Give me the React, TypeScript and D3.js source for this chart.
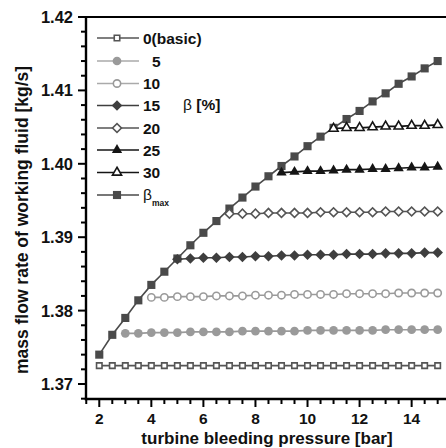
import React from "react";
import * as d3 from "d3";

const pressures = [2, 2.5, 3, 3.5, 4, 4.5, 5, 5.5, 6, 6.5, 7, 7.5, 8, 8.5, 9, 9.5, 10, 10.5, 11, 11.5, 12, 12.5, 13, 13.5, 14, 14.5, 15];

const basic = [1.3725, 1.3725, 1.3725, 1.3725, 1.3725, 1.3725, 1.3725, 1.3725, 1.3725, 1.3725, 1.3725, 1.3725, 1.3725, 1.3725, 1.3725, 1.3725, 1.3725, 1.3725, 1.3725, 1.3725, 1.3725, 1.3725, 1.3725, 1.3725, 1.3725, 1.3725, 1.3725];
const beta5 = [1.3769, 1.3769, 1.3770, 1.3770, 1.3770, 1.3771, 1.3771, 1.3771, 1.3771, 1.3772, 1.3772, 1.3772, 1.3772, 1.3772, 1.3773, 1.3773, 1.3773, 1.3773, 1.3773, 1.3773, 1.3774, 1.3774, 1.3774, 1.3774, 1.3774];
const beta10 = [1.3818, 1.3818, 1.3819, 1.3819, 1.3819, 1.3820, 1.3820, 1.3820, 1.3821, 1.3821, 1.3821, 1.3822, 1.3822, 1.3822, 1.3822, 1.3823, 1.3823, 1.3823, 1.3823, 1.3824, 1.3824, 1.3824, 1.3824];
const beta15 = [1.3870, 1.3871, 1.3872, 1.3872, 1.3873, 1.3873, 1.3874, 1.3874, 1.3875, 1.3875, 1.3876, 1.3876, 1.3876, 1.3877, 1.3877, 1.3877, 1.3878, 1.3878, 1.3878, 1.3879, 1.3879];
const beta20 = [1.3932, 1.3932, 1.3932, 1.3933, 1.3933, 1.3933, 1.3933, 1.3934, 1.3934, 1.3934, 1.3934, 1.3934, 1.3935, 1.3935, 1.3935, 1.3935, 1.3935];
const beta25 = [1.3988, 1.3989, 1.3990, 1.3990, 1.3991, 1.3992, 1.3992, 1.3993, 1.3993, 1.3994, 1.3995, 1.3995, 1.3996];
const beta30 = [1.4048, 1.4049, 1.4049, 1.4050, 1.4051, 1.4051, 1.4052, 1.4052, 1.4053];
const betaMax = [1.3740, 1.3767, 1.3790, 1.3814, 1.3835, 1.3853, 1.3871, 1.3889, 1.3906, 1.3922, 1.3939, 1.3954, 1.3969, 1.3983, 1.3997, 1.4010, 1.4024, 1.4037, 1.4049, 1.4061, 1.4072, 1.4085, 1.4096, 1.4109, 1.4119, 1.4130, 1.4140];

const yTickLabels = ["1.37", "1.38", "1.39", "1.40", "1.41", "1.42"];
const xTickLabels = ["2", "4", "6", "8", "10", "12", "14"];
const legendLabels = ["0(basic)", "5", "10", "15", "20", "25", "30", "βmax"];

type Marker = "sqOpen" | "circFill" | "circOpen" | "diaFill" | "diaOpen" | "triFill" | "triOpen" | "sqFill";

const FONT = "Arial, 'Liberation Sans', Helvetica, sans-serif";
const TXT = "#111";

function MarkerShape({ kind, cx, cy, color }: { kind: Marker; cx: number; cy: number; color: string }) {
  const open = kind.endsWith("Open");
  const fill = open ? "#fff" : color;
  const sw = open ? 1.6 : 0;
  let size = 40;
  let type: d3.SymbolType = d3.symbolSquare;
  let rot = 0;
  if (kind === "sqOpen") { type = d3.symbolSquare; size = 30; }
  if (kind === "sqFill") { type = d3.symbolSquare; size = 66; }
  if (kind === "circFill") { type = d3.symbolCircle; size = 60; }
  if (kind === "circOpen") { type = d3.symbolCircle; size = 42; }
  if (kind === "diaFill") { type = d3.symbolSquare; size = 56; rot = 45; }
  if (kind === "diaOpen") { type = d3.symbolSquare; size = 40; rot = 45; }
  if (kind === "triFill") { type = d3.symbolTriangle; size = 46; }
  if (kind === "triOpen") { type = d3.symbolTriangle; size = 36; }
  const path = d3.symbol().type(type).size(size)() as string;
  return (
    <path
      d={path}
      transform={`translate(${cx},${cy}) rotate(${rot})`}
      fill={fill}
      stroke={open ? color : "none"}
      strokeWidth={sw}
    />
  );
}

export default function App() {
  const x = d3.scaleLinear().domain([1.49, 15.32]).range([86, 446]);
  const y = d3.scaleLinear().domain([1.37, 1.42]).range([384, 17]);
  const left = 86, right = 446, top = 17, bottom = 399;

  const series = [
    { name: "betaMax", values: betaMax, start: 0, color: "#4a4a4a", lineColor: "#4a4a4a", marker: "sqFill" as Marker },
    { name: "basic", values: basic, start: 0, color: "#555", lineColor: "#555", marker: "sqOpen" as Marker },
    { name: "5", values: beta5, start: 2, color: "#9a9a9a", lineColor: "#9a9a9a", marker: "circFill" as Marker },
    { name: "10", values: beta10, start: 4, color: "#9a9a9a", lineColor: "#9a9a9a", marker: "circOpen" as Marker },
    { name: "15", values: beta15, start: 6, color: "#3e3e3e", lineColor: "#3e3e3e", marker: "diaFill" as Marker },
    { name: "20", values: beta20, start: 10, color: "#555", lineColor: "#555", marker: "diaOpen" as Marker },
    { name: "25", values: beta25, start: 14, color: "#151515", lineColor: "#151515", marker: "triFill" as Marker },
    { name: "30", values: beta30, start: 18, color: "#151515", lineColor: "#151515", marker: "triOpen" as Marker },
  ];

  const line = d3.line<[number, number]>().x((d) => x(d[0])).y((d) => y(d[1]));

  const yMajor = yTickLabels.map((t) => +t);
  const yMinor = d3.range(1368, 1421, 2).map((v) => v / 1000).filter((v) => !yMajor.some((m) => Math.abs(m - v) < 1e-6));
  const xMajor = xTickLabels.map((t) => +t);
  const xMinor = d3.range(3, 31, 1).map((v) => v / 2).filter((v) => !xMajor.includes(v));

  const legendSpec: { label: string; marker: Marker; color: string; lineColor: string; cy: number }[] = [
    { label: legendLabels[0], marker: "sqOpen", color: "#555", lineColor: "#555", cy: 38 },
    { label: legendLabels[1], marker: "circFill", color: "#9a9a9a", lineColor: "#aaa", cy: 61 },
    { label: legendLabels[2], marker: "circOpen", color: "#9a9a9a", lineColor: "#aaa", cy: 83.5 },
    { label: legendLabels[3], marker: "diaFill", color: "#3e3e3e", lineColor: "#3e3e3e", cy: 105.5 },
    { label: legendLabels[4], marker: "diaOpen", color: "#555", lineColor: "#555", cy: 128 },
    { label: legendLabels[5], marker: "triFill", color: "#151515", lineColor: "#151515", cy: 150 },
    { label: legendLabels[6], marker: "triOpen", color: "#151515", lineColor: "#151515", cy: 172.5 },
    { label: legendLabels[7], marker: "sqFill", color: "#4a4a4a", lineColor: "#4a4a4a", cy: 195 },
  ];

  return (
    <svg width={446} height={448} style={{ position: "absolute", left: 0, top: 0, background: "#fff" }} fontFamily={FONT}>
      <rect x={0} y={0} width={446} height={448} fill="#fff" />
      {series.map((s) => {
        const pts: [number, number][] = s.values.map((v, i) => [pressures[s.start + i], v]);
        return (
          <g key={s.name}>
            <path d={line(pts) as string} fill="none" stroke={s.lineColor} strokeWidth={1.6} />
            {pts.map((p, i) => (
              <MarkerShape key={i} kind={s.marker} cx={x(p[0])} cy={y(p[1])} color={s.color} />
            ))}
          </g>
        );
      })}

      <line x1={left} x2={right} y1={top} y2={top} stroke="#000" strokeWidth={2.2} />
      <line x1={left} x2={left} y1={top - 1} y2={bottom + 1.2} stroke="#000" strokeWidth={2.4} />
      <line x1={left - 1.2} x2={right} y1={bottom} y2={bottom} stroke="#000" strokeWidth={2.4} />

      {yMajor.map((v, i) => (
        <g key={"ym" + i}>
          <line x1={left - 8} x2={left} y1={y(v)} y2={y(v)} stroke="#000" strokeWidth={2} />
          <text x={73} y={y(v) + 6} textAnchor="end" fontSize={16.5} fontWeight="bold" fill={TXT}>
            {yTickLabels[i]}
          </text>
        </g>
      ))}
      {yMinor.map((v, i) => (
        <line key={"yn" + i} x1={left - 5} x2={left} y1={y(v)} y2={y(v)} stroke="#000" strokeWidth={2} />
      ))}

      {xMajor.map((v, i) => (
        <g key={"xm" + i}>
          <line x1={x(v)} x2={x(v)} y1={bottom} y2={bottom + 8} stroke="#000" strokeWidth={2} />
          <text x={x(v)} y={424} textAnchor="middle" fontSize={15.5} fontWeight="bold" fill={TXT}>
            {xTickLabels[i]}
          </text>
        </g>
      ))}
      {xMinor.map((v, i) => (
        <line key={"xn" + i} x1={x(v)} x2={x(v)} y1={bottom} y2={bottom + 5} stroke="#000" strokeWidth={2} />
      ))}

      <text x={267} y={443.5} textAnchor="middle" fontSize={17} fontWeight="bold" fill={TXT}>
        turbine bleeding pressure [bar]
      </text>
      <text
        transform="translate(27.5,220) rotate(-90)"
        textAnchor="middle"
        fontSize={17.5}
        fontWeight="bold"
        fill={TXT}
      >
        mass flow rate of working fluid [kg/s]
      </text>

      {legendSpec.map((l, i) => (
        <g key={"lg" + i}>
          <line x1={97} x2={139} y1={l.cy} y2={l.cy} stroke={l.lineColor} strokeWidth={1.6} />
          <MarkerShape kind={l.marker} cx={117} cy={l.cy} color={l.color} />
          {i === 7 ? (
            <text x={143} y={l.cy + 5} fontSize={15.5} fill={TXT}>
              β
              <tspan fontSize={8.5} dy={6} fontWeight="bold">max</tspan>
            </text>
          ) : (
            <text x={i === 1 ? 152 : 143} y={l.cy + 5.5} fontSize={15.5} fontWeight="bold" fill={TXT}>
              {l.label}
            </text>
          )}
        </g>
      ))}
      <text x={183} y={110} fontSize={15.5} fill={TXT}>
        β <tspan fontWeight="bold">[%]</tspan>
      </text>
    </svg>
  );
}
